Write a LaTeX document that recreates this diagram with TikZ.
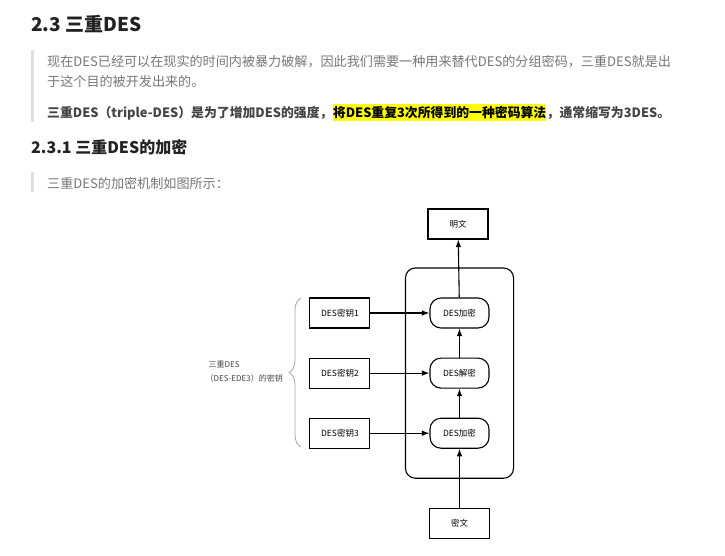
\documentclass[tikz,border=0pt]{standalone}
\usepackage{fontspec}
\setmainfont{Noto Sans CJK SC}
\usetikzlibrary{arrows.meta, positioning, fit, decorations.pathreplacing}
\definecolor{quotegray}{RGB}{221, 223, 228}
\definecolor{textgray}{RGB}{119, 119, 119}
\definecolor{strongtext}{RGB}{68, 68, 68}
\definecolor{headblack}{RGB}{34, 34, 34}
\definecolor{markyellow}{RGB}{255, 255, 0}

\begin{document}
\begin{tikzpicture}[
  x=1pt, y=-1pt,
  txt/.style={anchor=west, inner sep=0pt, font=\fontsize{13.1}{15}\selectfont, text=textgray},
  strong/.style={txt, font=\fontsize{12.85}{15}\selectfont\bfseries, text=strongtext},
  heading/.style={anchor=west, inner sep=0pt, text=headblack},
  keybox/.style={draw, line width=1.1pt, minimum width=60pt, minimum height=30pt, font=\fontsize{8.5}{10}\selectfont},
  desop/.style={draw, line width=1.1pt, rounded corners=11pt, minimum width=59pt, minimum height=30pt, font=\fontsize{8.5}{10}\selectfont},
  flow/.style={-{Latex[length=7.5pt, width=5.5pt]}, line width=1.1pt}
]
  \useasboundingbox (0,0) rectangle (725,555);
  \fill[white] (0,0) rectangle (725,555);

  % page text
  \node[heading, font=\fontsize{19}{23}\selectfont\bfseries] (head) at (31,24) {2.3 三重DES};
  \fill[quotegray] (31,50) rectangle (34,122);
  \node[txt] (introa) at (47,62) {现在DES已经可以在现实的时间内被暴力破解，因此我们需要一种用来替代DES的分组密码，三重DES就是出};
  \node[txt] (introb) at (47,82) {于这个目的被开发出来的。};
  \node[strong] (defa) at (47,113) {三重DES（triple-DES）是为了增加DES的强度，};
  \node[strong, anchor=base west, fill=markyellow, inner ysep=2.5pt, text=black] (defb) at (defa.base east) {将DES重复3次所得到的一种密码算法};
  \node[strong, anchor=base west] (defc) at (defb.base east) {，通常缩写为3DES。};
  \node[heading, font=\fontsize{16}{20}\selectfont\bfseries] (subhead) at (31,147) {2.3.1 三重DES的加密};
  \fill[quotegray] (31,172) rectangle (34,192);
  \node[txt] (figintro) at (47,183) {三重DES的加密机制如图所示：};

  % diagram
  \node[keybox] (plain) at (458,224) {明文};
  \node[desop] (enc1) at (459.5,313) {DES加密};
  \node[desop, below=29pt of enc1] (dec) {DES解密};
  \node[desop, below=29pt of dec] (enc3) {DES加密};
  \node[keybox, below=59pt of enc3] (cipher) {密文};
  \node[keybox, left=59pt of enc1] (key1) {DES密钥1};
  \node[keybox, left=59pt of dec] (key2) {DES密钥2};
  \node[keybox, left=59pt of enc3] (key3) {DES密钥3};
  \node[draw, line width=1.1pt, rounded corners=10pt, inner xsep=24pt, inner ysep=29.5pt, fit=(enc1)(enc3)] (core) {};

  \draw[flow] (cipher) -- (enc3);
  \draw[flow] (enc3) -- (dec);
  \draw[flow] (dec) -- (enc1);
  \draw[flow] (enc1) -- (plain);
  \draw[flow] (key1) -- (enc1);
  \draw[flow] (key2) -- (dec);
  \draw[flow] (key3) -- (enc3);

  \coordinate (bracetop) at (301,298);
  \coordinate (bracebot) at (301,447);
  \draw[gray!70, line width=0.8pt, decorate, decoration={brace, amplitude=12pt}] (bracebot) -- (bracetop);
  \node[anchor=east, align=left, inner sep=0pt, font=\fontsize{8}{14}\selectfont, text=strongtext] (keyset) at (283,372) {\hspace{3pt}三重DES\\（DES-EDE3）的密钥};
\end{tikzpicture}
\end{document}
